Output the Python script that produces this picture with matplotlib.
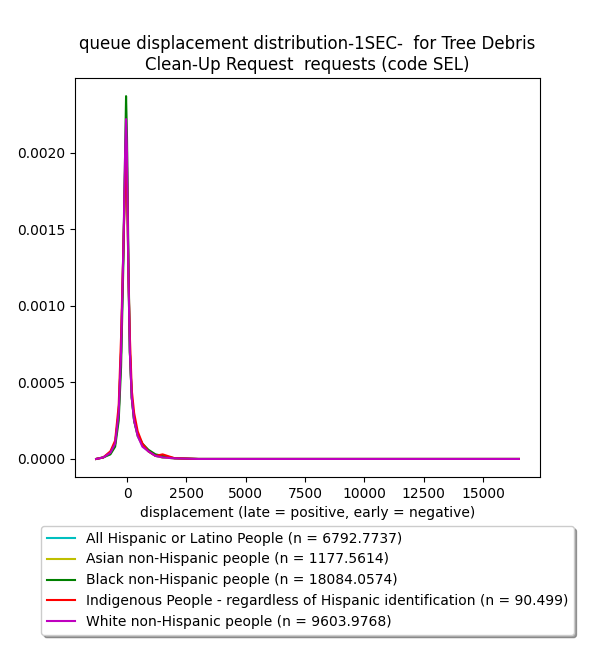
import matplotlib
matplotlib.use("Agg")
import matplotlib.pyplot as plt

# displacement grid (seconds) and density values
xs = [-1300, -1000, -700, -500, -350, -250, -150, -80, -40, 0, 60, 120, 200, 300, 450, 650, 900, 1200, 1500, 2000, 3000, 5000, 10000, 16500]

labels = ["All Hispanic or Latino People (n = 6792.7737)",
          "Asian non-Hispanic people (n = 1177.5614)",
          "Black non-Hispanic people (n = 18084.0574)",
          "Indigenous People - regardless of Hispanic identification (n = 90.499)",
          "White non-Hispanic people (n = 9603.9768)"]
colors = ["c", "y", "g", "r", "m"]

hisp  = [0.0, 0.00001, 0.00004, 0.0001, 0.0003, 0.0007, 0.0014, 0.0019, 0.0021, 0.0019, 0.0012, 0.0007, 0.0004, 0.00025, 0.00015, 0.00009, 0.00005, 0.00002, 0.00001, 0.000004, 0.0, 0.0, 0.0, 0.0]
asian = [0.0, 0.00001, 0.00004, 0.0001, 0.0003, 0.0007, 0.0014, 0.0019, 0.0021, 0.0019, 0.0012, 0.0007, 0.0004, 0.00025, 0.00015, 0.00009, 0.00005, 0.00002, 0.00001, 0.000004, 0.0, 0.0, 0.0, 0.0]
black = [0.0, 0.00001, 0.00003, 0.00008, 0.00025, 0.0006, 0.0013, 0.0020, 0.00237, 0.0021, 0.0013, 0.0007, 0.0004, 0.00025, 0.00016, 0.0001, 0.00006, 0.00003, 0.00002, 0.000005, 0.0, 0.0, 0.0, 0.0]
indig = [0.0, 0.00001, 0.00005, 0.00012, 0.00035, 0.0008, 0.0014, 0.0018, 0.00195, 0.0018, 0.0012, 0.0008, 0.00045, 0.0003, 0.00018, 0.0001, 0.00005, 0.00002, 0.00003, 0.000005, 0.0, 0.0, 0.0, 0.0]
white = [0.0, 0.00001, 0.00004, 0.0001, 0.0003, 0.0007, 0.0014, 0.0020, 0.00222, 0.0020, 0.0012, 0.0007, 0.0004, 0.00025, 0.00015, 0.00008, 0.00005, 0.00002, 0.00001, 0.000004, 0.0, 0.0, 0.0, 0.0]
series = [hisp, asian, black, indig, white]

fig = plt.figure(figsize=(6, 6.5), dpi=100)
ax = fig.add_axes([0.125, 0.266, 0.775, 0.614])
for ys, c, lab in zip(series, colors, labels):
    ax.plot(xs, ys, color=c, label=lab)

ax.set_xticks([0, 2500, 5000, 7500, 10000, 12500, 15000])
ax.set_yticks([0.0, 0.0005, 0.001, 0.0015, 0.002])
ax.set_yticklabels(["0.0000", "0.0005", "0.0010", "0.0015", "0.0020"])
ax.set_xlabel("displacement (late = positive, early = negative)")
ax.set_title("queue displacement distribution-1SEC-  for Tree Debris\nClean-Up Request  requests (code SEL)")
ax.legend(loc="upper center", bbox_to_anchor=(0.5, -0.105), shadow=True)

fig.savefig("out.png")
